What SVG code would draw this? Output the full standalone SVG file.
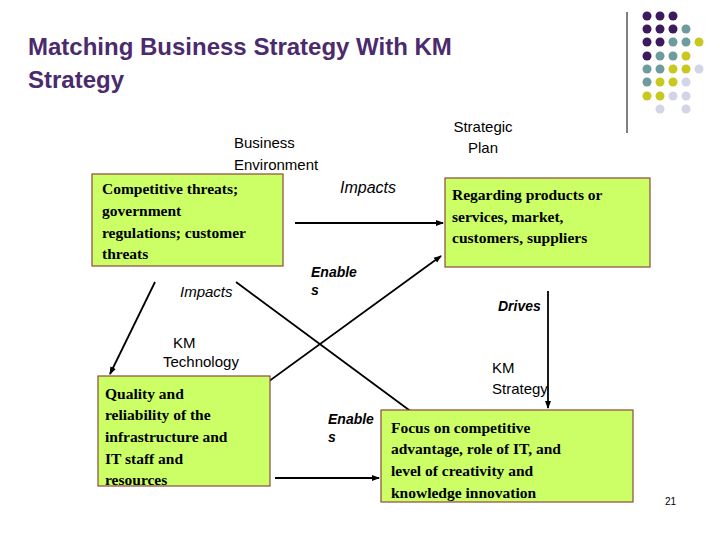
<svg xmlns="http://www.w3.org/2000/svg" width="720" height="540" viewBox="0 0 720 540">
<style>
.box{fill:#ccff66;stroke:#8b4a3c;stroke-width:1.2}
.bt{font-family:"Liberation Serif",serif;font-weight:bold;font-size:15.5px;fill:#000}
.lb{font-family:"Liberation Sans",sans-serif;font-size:15px;fill:#000}
.bi{font-family:"Liberation Sans",sans-serif;font-size:14px;font-weight:bold;font-style:italic;fill:#000}
.it{font-family:"Liberation Sans",sans-serif;font-size:16px;font-style:italic;fill:#000}
.ln{stroke:#000;stroke-width:1.8;fill:none;marker-end:url(#ah)}
.P{fill:#3d1a5c}.T{fill:#6e9c9c}.Y{fill:#c8c820}.L{fill:#d4d4e8}
</style>
<defs><marker id="ah" markerWidth="8" markerHeight="8" refX="7" refY="4" orient="auto" markerUnits="userSpaceOnUse"><path d="M0,1 L8,4 L0,7 Z" fill="#000"/></marker></defs>
<rect width="720" height="540" fill="#fff"/>
<text x="28" y="55" font-family="Liberation Sans,sans-serif" font-size="24" font-weight="bold" fill="#4b2a6e">Matching Business Strategy With KM</text>
<text x="28" y="88" font-family="Liberation Sans,sans-serif" font-size="24" font-weight="bold" fill="#4b2a6e">Strategy</text>
<g id="deco">
<line x1="627" y1="12" x2="627" y2="133" stroke="#000" stroke-width="1"/>
<circle class="P" cx="647" cy="16" r="4.5"/><circle class="P" cx="660" cy="16" r="4.5"/><circle class="P" cx="673" cy="16" r="4.5"/>
<circle class="P" cx="647" cy="29" r="4.5"/><circle class="P" cx="660" cy="29" r="4.5"/><circle class="P" cx="673" cy="29" r="4.5"/><circle class="T" cx="686" cy="29" r="4.5"/>
<circle class="P" cx="647" cy="42" r="4.5"/><circle class="P" cx="660" cy="42" r="4.5"/><circle class="T" cx="673" cy="42" r="4.5"/><circle class="T" cx="686" cy="42" r="4.5"/><circle class="Y" cx="699" cy="42" r="4.5"/>
<circle class="P" cx="647" cy="56" r="4.5"/><circle class="T" cx="660" cy="56" r="4.5"/><circle class="T" cx="673" cy="56" r="4.5"/><circle class="Y" cx="686" cy="56" r="4.5"/>
<circle class="T" cx="647" cy="69" r="4.5"/><circle class="T" cx="660" cy="69" r="4.5"/><circle class="Y" cx="673" cy="69" r="4.5"/><circle class="Y" cx="686" cy="69" r="4.5"/><circle class="L" cx="699" cy="69" r="4.5"/>
<circle class="T" cx="647" cy="82" r="4.5"/><circle class="Y" cx="660" cy="82" r="4.5"/><circle class="Y" cx="673" cy="82" r="4.5"/><circle class="L" cx="686" cy="82" r="4.5"/>
<circle class="Y" cx="647" cy="96" r="4.5"/><circle class="Y" cx="660" cy="96" r="4.5"/><circle class="L" cx="673" cy="96" r="4.5"/><circle class="L" cx="686" cy="96" r="4.5"/>
<circle class="L" cx="660" cy="109" r="4.5"/><circle class="L" cx="686" cy="109" r="4.5"/>
</g>
<g id="connectors">
<line class="ln" x1="295" y1="223" x2="443" y2="223"/>
<line class="ln" x1="155" y1="282" x2="110" y2="374"/>
<line class="ln" x1="236" y1="282" x2="432" y2="427"/>
<line class="ln" x1="254" y1="392" x2="441" y2="256"/>
<line class="ln" x1="548" y1="291" x2="548" y2="408"/>
<line class="ln" x1="275" y1="478" x2="379" y2="478"/>
</g>
<g id="n1"><rect class="box" x="92" y="174" width="191" height="92"/>
<text class="bt" x="102" y="194">Competitive threats;</text><text class="bt" x="102" y="216">government</text><text class="bt" x="102" y="238">regulations; customer</text><text class="bt" x="102" y="259">threats</text></g>
<g id="n2"><rect class="box" x="445" y="178" width="205" height="89"/>
<text class="bt" x="452" y="200">Regarding products or</text><text class="bt" x="452" y="222">services, market,</text><text class="bt" x="452" y="243">customers, suppliers</text></g>
<g id="n3"><rect class="box" x="98" y="376" width="172" height="110"/>
<text class="bt" x="105" y="399">Quality and</text><text class="bt" x="105" y="420">reliability of the</text><text class="bt" x="105" y="442">infrastructure and</text><text class="bt" x="105" y="464">IT staff and</text><text class="bt" x="105" y="485">resources</text></g>
<g id="n4"><rect class="box" x="381" y="410" width="252" height="92"/>
<text class="bt" x="391" y="433">Focus on competitive</text><text class="bt" x="391" y="454">advantage, role of IT, and</text><text class="bt" x="391" y="476">level of creativity and</text><text class="bt" x="391" y="498">knowledge innovation</text></g>
<g id="labels">
<text class="lb" x="234" y="148">Business</text><text class="lb" x="234" y="170">Environment</text>
<text class="lb" x="483" y="132" text-anchor="middle">Strategic</text><text class="lb" x="483" y="153" text-anchor="middle">Plan</text>
<text class="it" x="340" y="193">Impacts</text>
<text class="lb" x="180" y="297" font-style="italic">Impacts</text>
<text class="bi" x="311" y="277">Enable</text><text class="bi" x="311" y="295">s</text>
<text class="bi" x="498" y="311">Drives</text>
<text class="lb" x="173" y="348">KM</text><text class="lb" x="163" y="367">Technology</text>
<text class="lb" x="492" y="373">KM</text><text class="lb" x="492" y="394">Strategy</text>
<text class="bi" x="328" y="424">Enable</text><text class="bi" x="328" y="442">s</text>
<text x="665" y="505" font-family="Liberation Sans,sans-serif" font-size="10">21</text>
</g>
</svg>
